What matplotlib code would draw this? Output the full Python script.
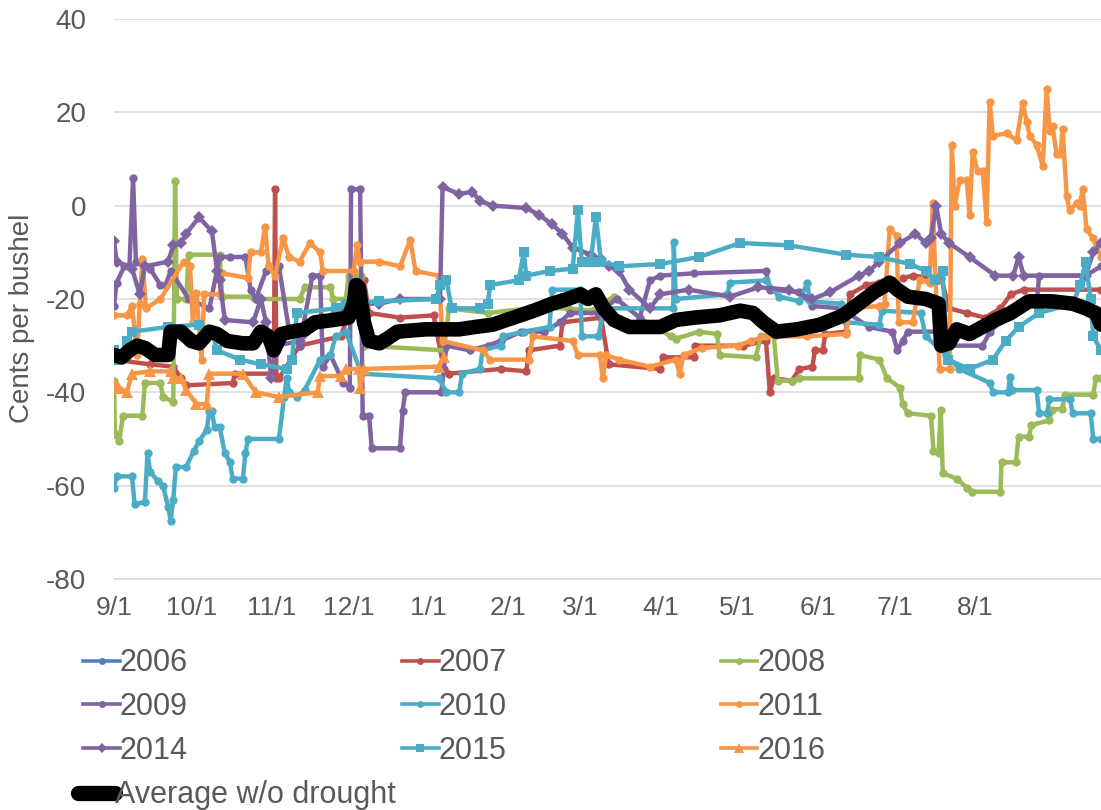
import matplotlib
matplotlib.use("Agg")
import matplotlib.pyplot as plt
from matplotlib.lines import Line2D

plt.rcParams["font.family"] = ["Liberation Sans", "DejaVu Sans"]
plt.rcParams["axes.unicode_minus"] = False

# x = days since 9/1, y = cents per bushel
MONTH_DAYS = [0, 30, 61, 91, 122, 153, 181, 212, 242, 273, 303, 334]
MONTH_LABELS = ["9/1", "10/1", "11/1", "12/1", "1/1", "2/1", "3/1", "4/1", "5/1", "6/1", "7/1", "8/1"]

s2006 = []  # no visible data in the chart

s2007 = [(0, -33), (14, -34), (23, -34.5), (26, -37), (28, -38.5), (46, -38), (47, -36), (62, -36), (62.5, 3.5),
         (63, -37), (64, -37), (72, -30), (88, -28), (93, -20), (95, -17), (97, -16), (99, -23), (111, -24),
         (124, -23.5), (128, -35), (130, -36), (150, -35), (160, -35.5), (161, -31), (173, -30), (174, -25),
         (189, -24), (192, -34), (212, -35), (213, -32.5), (225, -32.5), (225.5, -30), (244, -30), (253, -29),
         (254.5, -40), (256, -37), (263, -37.5), (266, -35), (271, -34.5), (272, -31), (275, -31), (276, -27.5),
         (284, -27), (285.5, -19), (292, -17), (297, -16.5), (306, -15.5), (310, -15), (318, -15.5), (321, -15.5),
         (324, -22), (331, -23), (338, -24), (344, -22), (348, -19), (353, -18), (383, -18)]

s2008 = [(0, -37.5), (0.4, -49), (2, -50.5), (3.5, -45), (11, -45), (12, -38), (18, -38), (19, -41), (23, -42),
         (23.7, 5.3), (24.4, -20), (28, -20), (29, -10.5), (41, -10.5), (42, -19.5), (54, -19.5), (55, -20),
         (72, -20), (74, -17.5), (84, -17.5), (85, -20), (90, -20), (91, -15), (96, -15), (97, -30), (128, -31),
         (130, -22), (145, -23), (161, -22), (176, -22), (185, -22.5), (194, -19.5), (204, -24), (216, -28),
         (218, -28.5), (227, -27), (234, -27.5), (235, -32), (249, -32.5), (251, -28), (256, -28), (257.6, -37.5),
         (263, -37.5), (266, -37), (289, -37), (289.4, -32), (297, -33), (300, -37), (305, -39), (306, -42.5),
         (308, -44.5), (317, -45), (318, -52.5), (320, -53), (320.8, -43.7), (321.6, -57.3), (327, -58.5),
         (331, -60.5), (333, -61.3), (344, -61.3), (344.4, -55), (350, -55), (351, -49.5), (355, -49.5),
         (356, -47), (363, -46), (364, -43.7), (368, -43.5), (369, -40.5), (380, -40.5), (381, -37), (383, -37)]

s2009 = [(0, -21.5), (1, -16.5), (4, -13), (6, -13), (7.4, 6), (8.5, -12), (14, -13.5), (18, -17), (20, -17),
         (22, -14), (29, -20), (37, -22), (41, -11), (45, -11), (51, -11), (53, -18), (55, -20), (59, -14),
         (60, -13), (64, -13), (68, -27), (72, -30), (77, -15), (80, -15), (81, -34.5), (84, -32), (89, -38),
         (91.5, -39), (92, 3.5), (95.5, 3.5), (96.5, -45), (99, -45), (100, -52), (111, -52), (112, -44),
         (113, -40), (127, -40), (129, -30), (138, -31), (145, -30), (150, -29), (158, -27), (167, -27),
         (173, -25), (177, -23), (188, -23), (195, -20), (204, -24), (208, -16), (212, -15), (225, -14.5),
         (253, -14), (254.5, -18), (266, -18.5), (271, -21.5), (282, -22), (293, -26), (302, -27), (304, -31),
         (306, -29), (308, -27), (323, -27), (324, -30), (337, -30), (340, -27), (349, -22), (358, -21),
         (359, -15), (377, -15), (383, -13)]

s2010 = [(0, -60.5), (1, -58), (7, -58), (8, -64), (12, -63.5), (13, -53), (14, -57), (17, -59), (19, -60),
         (21, -64.5), (22, -67.5), (23, -63), (24, -56), (28, -56), (31, -52.5), (33, -50.5), (36, -48),
         (37, -44), (38, -44), (39, -47.5), (41, -47.5), (43, -53), (45, -55), (46, -58.5), (50, -58.5),
         (51, -53), (52, -50), (64, -50), (66, -41), (67, -37), (68, -40), (71, -41), (74, -39.5), (80, -33),
         (84, -32), (86, -28), (90, -27), (96, -36), (126, -37), (129, -40), (134, -40), (135, -36), (142, -35),
         (143, -31), (150, -30), (151, -28), (159, -27), (169, -26), (170, -18), (181, -18), (181.5, -28),
         (188, -28), (190, -22), (217, -22), (217.2, -7.7), (218, -20), (238, -19), (239, -16.5), (253, -16),
         (258, -19.5), (266, -20.5), (269, -16.5), (270, -20.5), (282, -21), (284, -25), (297, -25.5),
         (298, -22.5), (313, -23), (315, -28), (323, -32), (328, -35), (340, -38), (341, -40), (347, -40),
         (347.6, -36.7), (348.3, -39.5), (358, -39.5), (359, -44.5), (362, -44.5), (363, -41.5), (371, -41.5),
         (372, -44.5), (379, -44.5), (380, -50), (383, -50)]

s2011 = [(0, -23.5), (5, -23.5), (7, -21.5), (9, -32), (10, -21), (11, -11.5), (12.4, -22), (18, -20), (27, -12),
         (29.5, -13), (30.6, -25), (32, -18.7), (34, -33), (35, -19), (41, -19), (42, -14.5), (52, -15.5),
         (53, -10), (57, -10), (58.6, -4.5), (60, -13), (62.5, -15), (65.6, -7), (68, -11), (72, -12), (76, -8),
         (80, -10), (81, -14), (93, -14), (94.3, -8.4), (95.4, -12), (103, -12), (111, -13), (115, -7.3),
         (117, -14), (126, -15), (127.6, -29), (143, -31), (146, -33), (161, -33), (162.5, -28), (178, -29),
         (180, -32), (188.5, -32), (189.7, -37), (191, -32), (196, -33), (208, -34.5), (218, -33), (219.5, -36),
         (221, -32), (228, -30.5), (242, -30), (247, -29), (253, -28), (269, -28), (284, -27.5), (285.5, -22),
         (297, -21.5), (299, -21), (301, -5), (303.7, -6.5), (304.5, -25), (310, -25), (312.6, -16),
         (316.5, -16.5), (317.7, 0.5), (318.8, -16), (320.4, -35), (324.3, -35), (325.1, 13), (326.2, 0),
         (328.2, 5.5), (330.9, 5.5), (332, -2), (333.2, 11.5), (335.1, 7.5), (337.1, 7.5), (338.6, -3.5),
         (339.8, 22.3), (341, 15), (346.4, 15.5), (350.3, 14), (352.6, 22), (354.2, 18), (355.3, 15), (358, 13),
         (360.4, 8.5), (361.9, 25), (363.1, 16), (364.2, 17), (365.8, 11), (367.3, 11), (368.1, 16.5),
         (369.7, 2), (370.8, -1), (373.5, 0.5), (374.7, 0), (375.9, 3.5), (377.4, -5), (379.8, -7), (383, -11)]

s2014 = [(0, -7.5), (1, -12), (7, -13.5), (10, -19), (12, -13), (21, -12), (23, -8.5), (26, -8), (28, -6),
         (33, -2.5), (38, -5.5), (40, -14), (41, -16), (43, -24.5), (54, -25), (57, -20), (59, -25), (61, -37),
         (63, -30), (72, -29), (80, -25), (88, -22), (95, -21), (103, -21), (111, -20), (126.5, -20), (127.5, 4),
         (134, 2.5), (139, 3), (142, 1), (147, 0), (160, -0.5), (165, -2), (170, -4), (174, -6), (178, -9),
         (185, -10.5), (189, -11.5), (192, -13), (196, -14), (200, -18), (208, -22), (212, -19), (223, -18),
         (239, -19.5), (250, -17.5), (262, -18), (271, -20), (278, -18.5), (289, -15), (293, -14), (297, -12),
         (305, -8), (311, -6), (315, -8), (317, -7), (319, 0), (321, -6), (324, -8), (332, -11), (342, -15),
         (349, -15), (351, -11), (353, -15), (377, -15), (380, -10), (383, -8)]

s2015 = [(0, -31), (2, -33), (5, -29), (7, -27), (21, -26), (33, -25.5), (38, -27), (40, -31), (49, -33),
         (57, -34), (67, -35), (69, -33), (71, -23), (86, -22), (90, -21), (103, -20.5), (125, -20), (126.5, -17),
         (129, -16), (131, -22), (142, -22), (145, -21), (146, -17), (157, -16), (159, -10), (160, -15),
         (169, -14), (178, -13.5), (180, -1), (181.5, -12), (185, -12), (187, -2.5), (189, -12), (196, -13),
         (212, -12.5), (227, -11), (243, -8), (262, -8.5), (284, -10.5), (297, -11), (309, -12.5), (315, -14),
         (318.5, -16), (321.5, -14), (323.5, -33), (332, -35), (341, -33), (346, -29), (351, -26), (359, -23),
         (372, -21), (375, -17), (377, -12), (379, -20), (380, -28), (383, -31)]

s2016 = [(0, -38), (2, -39), (5, -40), (7, -36), (14, -35.5), (22, -35.5), (23, -37), (26, -37), (28, -39.5),
         (32, -42.5), (36, -42.5), (37, -36), (50, -36), (55, -40), (64, -41), (79, -40), (80, -36.5), (88, -36.5),
         (90, -35), (95, -35), (95.5, -39), (97, -35), (126, -34.5), (128, -32.5)]

avg = [(0, -32), (3, -32.5), (6, -31), (9, -30), (12, -30.5), (16, -32), (21, -32), (22, -27), (26, -27), (30, -29),
       (33, -29.5), (37, -27), (40, -27.5), (44, -29), (50, -29.5), (54, -29.5), (57, -27), (60, -28), (62, -31),
       (65, -27.5), (69, -27), (74, -26.5), (78, -25), (85, -24.5), (91, -24), (93, -21), (94, -17), (95, -17.5),
       (97, -25), (99, -29), (103, -29.5), (106, -28.5), (110, -27), (121, -26.5), (134, -26.5), (140, -26),
       (147, -25.5), (155, -24), (163, -22.5), (170, -21), (176, -20), (181, -19), (184, -20), (187, -19),
       (190, -22), (194, -24.5), (200, -26), (212, -26), (218, -24.5), (225, -24), (235, -23.5), (243, -22.5),
       (248, -23), (252, -25), (257, -27), (265, -26.5), (274, -25.5), (283, -23.5), (289, -21), (295, -18.5),
       (301, -16.5), (304, -18), (308, -19.5), (315, -20), (320, -21), (321, -30), (324, -29.5), (327, -26.5),
       (332, -27.5), (337, -26), (342, -24.5), (348, -23), (355, -20.5), (364, -20.5), (372, -21), (377, -22),
       (381, -23), (383, -25.5)]

SERIES = [("2006", s2006, "#4F81BD", "o", 6),
          ("2007", s2007, "#C0504D", "o", 6),
          ("2008", s2008, "#9BBB59", "o", 6),
          ("2009", s2009, "#8064A2", "o", 6),
          ("2010", s2010, "#4BACC6", "o", 6),
          ("2011", s2011, "#F79646", "o", 6),
          ("2014", s2014, "#8064A2", "D", 6.5),
          ("2015", s2015, "#4BACC6", "s", 7),
          ("2016", s2016, "#F79646", "^", 8)]

TXT = "#595959"
fig = plt.figure(figsize=(11.01, 8.10), dpi=100)
ax = fig.add_axes([114 / 1101, 1 - 579 / 810, 987 / 1101, 560 / 810])

handles = {}
for name, pts, col, mk, ms in SERIES:
    xs = [p[0] for p in pts]
    ys = [p[1] for p in pts]
    ln, = ax.plot(xs, ys, color=col, lw=3.2, marker=mk, ms=ms, markeredgewidth=0,
                  solid_joinstyle="round", label=name)
    handles[name] = ln
ax.plot([p[0] for p in avg], [p[1] for p in avg], color="black", lw=10.5,
        solid_joinstyle="round", solid_capstyle="round", zorder=5)

ax.set_xlim(0, 383)
ax.set_ylim(-80, 40)
ax.set_yticks(range(-80, 41, 20))
ax.set_xticks(MONTH_DAYS)
ax.set_xticklabels(MONTH_LABELS)
ax.grid(axis="y", color="#D9D9D9", lw=1.1)
ax.set_axisbelow(True)
for s in ["top", "right", "left"]:
    ax.spines[s].set_visible(False)
ax.spines["bottom"].set_color("#D9D9D9")
ax.spines["bottom"].set_linewidth(1.1)
ax.tick_params(length=0, colors=TXT)
ax.tick_params(axis="y", labelsize=20, pad=20)
ax.tick_params(axis="x", labelsize=19, pad=12)
fig.text(22 / 1101, 1 - 318 / 810, "Cents per bushel", rotation=90, ha="center", va="center",
         fontsize=20, color=TXT)

order = ["2006", "2009", "2014", "2007", "2010", "2015", "2008", "2011", "2016"]
leg_h = [Line2D([0], [0], color=handles[n].get_color(), lw=2.6, marker=handles[n].get_marker(),
                ms=handles[n].get_markersize() - 1, markeredgewidth=0) for n in order]
fig.legend(leg_h, order, loc="upper left", bbox_to_anchor=(68 / 1101, 1 - 633 / 810), ncol=3,
           frameon=False, fontsize=22, handlelength=1.2, handletextpad=0.0, columnspacing=7.0,
           labelspacing=0.45, borderpad=0, labelcolor=TXT)
fig.legend([Line2D([0], [0], color="black", lw=11, solid_capstyle="round")], ["Average w/o drought"],
           loc="upper left", bbox_to_anchor=(63 / 1101, 1 - 765 / 810), frameon=False, fontsize=22,
           handlelength=1.2, handletextpad=0.0, borderpad=0, labelcolor=TXT)

fig.savefig("out.png", dpi=100)
